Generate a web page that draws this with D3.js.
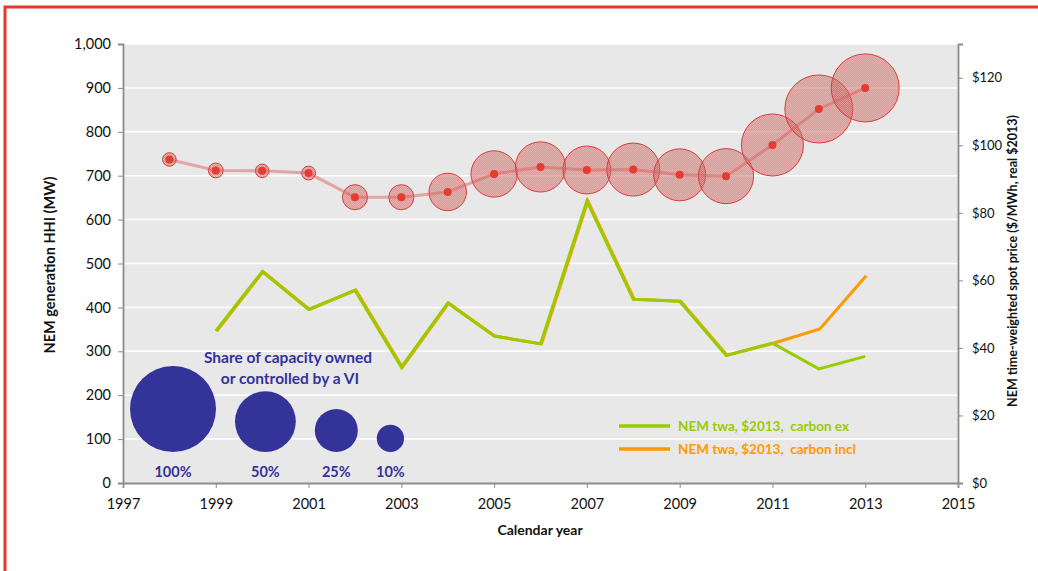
<!DOCTYPE html>
<html>
<head>
<meta charset="utf-8">
<script src="https://cdn.jsdelivr.net/npm/d3@7"></script>
<style>
  html, body { margin: 0; padding: 0; background: #fff; }
  svg { display: block; font-family: Lato, "Liberation Sans", sans-serif; }
</style>
</head>
<body>
<svg id="chart" width="1038" height="571"></svg>
<script>
// ---- data ----
const years = [1998, 1999, 2000, 2001, 2002, 2003, 2004, 2005, 2006, 2007, 2008, 2009, 2010, 2011, 2012, 2013];
const hhi = [737, 712, 711, 706, 651, 651, 663, 704, 720, 713, 714, 702, 699, 770, 852, 900];
const viShare = [0.025, 0.03, 0.025, 0.026, 0.085, 0.085, 0.19, 0.29, 0.34, 0.31, 0.38, 0.365, 0.41, 0.52, 0.625, 0.625];

const priceYears = [1999, 2000, 2001, 2002, 2003, 2004, 2005, 2006, 2007, 2008, 2009, 2010, 2011, 2012, 2013];
const priceCarbonEx = [45.0, 62.6, 51.4, 57.1, 34.3, 53.3, 43.5, 41.2, 83.5, 54.4, 53.8, 37.8, 41.4, 33.8, 37.5];
const priceCarbonIncl = [45.0, 62.6, 51.4, 57.1, 34.3, 53.3, 43.5, 41.2, 83.5, 54.4, 53.8, 37.8, 41.4, 45.6, 61.4];

const xTicks = [1997, 1999, 2001, 2003, 2005, 2007, 2009, 2011, 2013, 2015];
const yLeftTicks = [0, 100, 200, 300, 400, 500, 600, 700, 800, 900, 1000];
const yRightTicks = [0, 20, 40, 60, 80, 100, 120];

const legendShares = [1, 0.5, 0.25, 0.1];
const legendLabels = ["100%", "50%", "25%", "10%"];
const seriesNames = ["NEM twa, $2013,  carbon ex", "NEM twa, $2013,  carbon incl"];

// ---- layout ----
const svg = d3.select("#chart");
const L = 123, R = 958, T = 44, B = 483;
const x = d3.scaleLinear().domain([1997, 2015]).range([L, R]);
const yL = d3.scaleLinear().domain([0, 1000]).range([B, T]);
const yR = d3.scaleLinear().domain([0, 130]).range([B, T]);
const rScale = d3.scaleSqrt().domain([0, 1]).range([0, 43]);

const GREEN = "#99cc00", ORANGE = "#ff9900", NAVY = "#333399", RED = "#e63b30";

// frame
svg.append("path").attr("d", `M5,571 V7 H1038`).attr("fill", "none")
  .attr("stroke", "#e5392e").attr("stroke-width", 3);

// pattern for bubbles
const defs = svg.append("defs");
const pat = defs.append("pattern").attr("id", "dots").attr("patternUnits", "userSpaceOnUse")
  .attr("width", 2).attr("height", 2);
pat.append("rect").attr("width", 2).attr("height", 2).attr("fill", "rgba(205,60,60,0.46)");
pat.append("rect").attr("x", 0).attr("y", 0).attr("width", 1).attr("height", 1).attr("fill", "rgba(255,255,255,0.22)");
pat.append("rect").attr("x", 1).attr("y", 1).attr("width", 1).attr("height", 1).attr("fill", "rgba(255,255,255,0.22)");

// plot background
svg.append("rect").attr("x", L).attr("y", T).attr("width", R - L).attr("height", B - T).attr("fill", "#e8e8e8");

// gridlines
svg.append("g").selectAll("line").data(yLeftTicks.filter(d => d > 0)).join("line")
  .attr("x1", L).attr("x2", R).attr("y1", d => yL(d)).attr("y2", d => yL(d))
  .attr("stroke", "#ffffff").attr("stroke-width", 1.5);

// axes
function styleAxis(g, fs) {
  g.selectAll("path.domain").attr("stroke", "#8c8c8c").attr("stroke-width", 1.8);
  g.selectAll(".tick line").attr("stroke", "#8c8c8c").attr("stroke-width", 1);
  g.selectAll(".tick text").attr("fill", "#111").attr("font-size", fs)
    .attr("font-family", "Lato, sans-serif");
}
const gx = svg.append("g").attr("transform", `translate(0,${B})`)
  .call(d3.axisBottom(x).tickValues(xTicks).tickFormat(d3.format("d")).tickSizeOuter(0).tickSize(5).tickPadding(11));
styleAxis(gx, 14.5);
const gyl = svg.append("g").attr("transform", `translate(${L},0)`)
  .call(d3.axisLeft(yL).tickValues(yLeftTicks).tickFormat(d3.format(",")).tickSizeOuter(0).tickSize(5).tickPadding(7));
styleAxis(gyl, 14.5);
const gyr = svg.append("g").attr("transform", `translate(${R},0)`)
  .call(d3.axisRight(yR).tickValues(yRightTicks).tickFormat(d => "$" + d).tickSizeOuter(0).tickSize(5).tickPadding(9));
styleAxis(gyr, 13);

// axis titles
svg.append("text").attr("transform", `translate(55,265) rotate(-90)`).attr("text-anchor", "middle")
  .attr("font-weight", "bold").attr("font-size", 14.5).attr("fill", "#111").text("NEM generation HHI (MW)");
svg.append("text").attr("transform", `translate(1017,261) rotate(-90)`).attr("text-anchor", "middle")
  .attr("font-weight", "bold").attr("font-size", 12.5).attr("fill", "#111")
  .text("NEM time-weighted spot price ($/MWh, real $2013)");
svg.append("text").attr("x", 540).attr("y", 535).attr("text-anchor", "middle")
  .attr("font-weight", "bold").attr("font-size", 14).attr("fill", "#111").text("Calendar year");

// price lines
const priceLine = d3.line().x((d, i) => x(priceYears[i])).y(d => yR(d));
svg.append("path").datum(priceCarbonIncl).attr("d", priceLine).attr("fill", "none")
  .attr("stroke", ORANGE).attr("stroke-width", 3).attr("stroke-linejoin", "miter")
  .attr("transform", "translate(1,0)");
svg.append("path").datum(priceCarbonEx).attr("d", priceLine).attr("fill", "none")
  .attr("stroke", GREEN).attr("stroke-width", 3).attr("stroke-linejoin", "miter");

// HHI bubbles
const hhiData = years.map((yr, i) => ({ yr, v: hhi[i], s: viShare[i] }));
svg.append("g").selectAll("circle").data(hhiData).join("circle")
  .attr("cx", d => x(d.yr)).attr("cy", d => yL(d.v)).attr("r", d => rScale(d.s))
  .attr("fill", "url(#dots)").attr("stroke", "#dc3a3a").attr("stroke-width", 1);
svg.append("path").datum(hhiData)
  .attr("d", d3.line().x(d => x(d.yr)).y(d => yL(d.v)))
  .attr("fill", "none").attr("stroke", "rgba(220,95,95,0.5)").attr("stroke-width", 3);
svg.append("g").selectAll("circle").data(hhiData).join("circle")
  .attr("cx", d => x(d.yr)).attr("cy", d => yL(d.v)).attr("r", 4).attr("fill", RED);

// bubble-size legend
const legG = svg.append("g");
legG.append("text").attr("x", 288).attr("y", 363).attr("text-anchor", "middle")
  .attr("font-weight", "bold").attr("font-size", 15.5).attr("fill", NAVY).text("Share of capacity owned");
legG.append("text").attr("x", 290).attr("y", 384).attr("text-anchor", "middle")
  .attr("font-weight", "bold").attr("font-size", 15.5).attr("fill", NAVY).text("or controlled by a VI");
let cursor = 130;
const legItems = legendShares.map((s, i) => {
  const r = rScale(s);
  const cx = cursor + r;
  cursor += 2 * r + 19;
  return { s, r, cx, label: legendLabels[i] };
});
legG.selectAll("circle").data(legItems).join("circle")
  .attr("cx", d => d.cx).attr("cy", d => 452 - d.r).attr("r", d => d.r).attr("fill", NAVY);
legG.selectAll("text.lab").data(legItems).join("text").attr("class", "lab")
  .attr("x", d => d.cx).attr("y", 477).attr("text-anchor", "middle")
  .attr("font-weight", "bold").attr("font-size", 14.5).attr("fill", NAVY).text(d => d.label);

// series legend
const serColors = [GREEN, ORANGE];
const sl = svg.append("g").selectAll("g").data(seriesNames).join("g")
  .attr("transform", (d, i) => `translate(619,${426 + i * 23})`);
sl.append("line").attr("x1", 0).attr("x2", 51).attr("y1", 0).attr("y2", 0)
  .attr("stroke", (d, i) => serColors[i]).attr("stroke-width", 3.5);
sl.append("text").attr("x", 59).attr("y", 4.5).attr("font-weight", "bold").attr("font-size", 13.5)
  .attr("style", "white-space:pre")
  .attr("fill", (d, i) => serColors[i]).text(d => d);
</script>
</body>
</html>
